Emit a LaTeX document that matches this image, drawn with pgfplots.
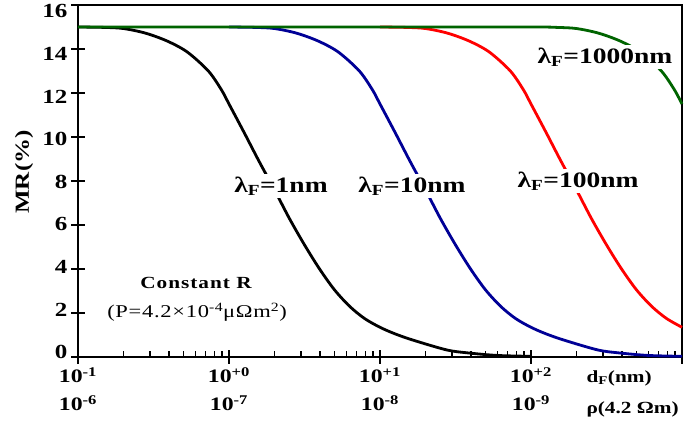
\documentclass[border=0pt]{standalone}
\usepackage{fontspec}
\setmainfont{Liberation Serif}[FakeStretch=1.25]
\usepackage{pgfplots}
\pgfplotsset{compat=1.18}

\definecolor{cblue}{RGB}{0,0,150}
\definecolor{cred}{RGB}{255,0,0}
\definecolor{cgreen}{RGB}{0,100,0}

\begin{document}
\begin{tikzpicture}
\useasboundingbox (-78pt,-70pt) rectangle (607pt,357pt);
\begin{axis}[
    scale only axis,
    width=604pt, height=352pt,
    xmode=log,
    xmin=0.1, xmax=1000,
    ymin=0, ymax=16,
    ytick={0,2,...,16},
    xtick={0.1,1,10,100,1000},
    xticklabels={{10\textsuperscript{-1}\\10\textsuperscript{-6}},
                 {10\textsuperscript{+0}\\10\textsuperscript{-7}},
                 {10\textsuperscript{+1}\\10\textsuperscript{-8}},
                 {10\textsuperscript{+2}\\10\textsuperscript{-9}},
                 {}},
    xticklabel style={align=center, font=\fontsize{19}{28}\selectfont\bfseries},
    yticklabel style={font=\fontsize{20}{24}\selectfont\bfseries,
                      yshift={(5-1.4*\ticknum)*1pt}},
    /pgf/number format/assume math mode=true,
    xtick pos=bottom, ytick pos=left,
    tick align=center,
    major tick length=14pt,
    minor tick length=6pt,
    minor x tick style={yshift=3pt},
    tick style={black, line width=1.6pt},
    axis line style={line width=2pt},
    clip=false,
]
% lambda_F = 1 nm
\addplot[black, line width=2.8pt, smooth] coordinates {
  (0.1,15.0) (0.15,14.98) (0.2,14.93) (0.28,14.72) (0.39,14.36) (0.53,13.86)
  (0.73,13.0) (0.89,12.15) (1.0,11.5) (1.26,10.2) (1.58,8.9) (2.0,7.6)
  (2.51,6.3) (3.16,5.1) (3.98,4.0) (5.0,3.05) (6.3,2.3) (7.9,1.75)
  (10,1.35) (12.6,1.05) (16.5,0.77) (27.7,0.32) (39,0.18) (60,0.07) (100,0.03)
};
% lambda_F = 10 nm
\addplot[cblue, line width=2.8pt, smooth] coordinates {
  (1,15.0) (1.5,14.98) (2,14.93) (2.8,14.72) (3.9,14.36) (5.3,13.86)
  (7.3,13.0) (8.9,12.15) (10,11.5) (12.6,10.2) (15.8,8.9) (20,7.6)
  (25.1,6.3) (31.6,5.1) (39.8,4.0) (50,3.05) (63,2.3) (79,1.75)
  (100,1.35) (126,1.05) (165,0.77) (277,0.32) (390,0.18) (600,0.07) (1000,0.03)
};
% lambda_F = 100 nm
\addplot[cred, line width=2.8pt, smooth] coordinates {
  (10,15.0) (15,14.98) (20,14.93) (28,14.72) (39,14.36) (53,13.86)
  (73,13.0) (89,12.15) (100,11.5) (126,10.2) (158,8.9) (200,7.6)
  (251,6.3) (316,5.1) (398,4.0) (500,3.05) (630,2.3) (790,1.75) (1000,1.35)
};
% lambda_F = 1000 nm
\addplot[cgreen, line width=2.8pt, smooth] coordinates {
  (0.1,15.0) (1,15.0) (10,15.0) (100,15.0) (150,14.98) (200,14.93)
  (280,14.72) (390,14.36) (530,13.86) (730,13.0) (890,12.15) (1000,11.5)
};
\end{axis}

\node[fill=white, inner sep=3pt, font=\fontsize{22}{26}\selectfont\bfseries]
  at (203pt,171pt) {λ\textsubscript{F}=1nm};
\node[fill=white, inner sep=3pt, font=\fontsize{22}{26}\selectfont\bfseries]
  at (334pt,171pt) {λ\textsubscript{F}=10nm};
\node[fill=white, inner sep=3pt, font=\fontsize{22}{26}\selectfont\bfseries]
  at (500pt,176pt) {λ\textsubscript{F}=100nm};
\node[fill=white, inner sep=3pt, font=\fontsize{22}{26}\selectfont\bfseries]
  at (527pt,300pt) {λ\textsubscript{F}=1000nm};

\node[font=\fontsize{17}{20}\selectfont\bfseries\addfontfeatures{LetterSpace=6}]
  at (118pt,74pt) {Constant R};
\node[font=\fontsize{18}{21}\selectfont\addfontfeatures{LetterSpace=4}]
  at (119pt,45pt) {(P=4.2×10\textsuperscript{-4}μΩm\textsuperscript{2})};

\node[rotate=90, font=\fontsize{20}{24}\selectfont\bfseries]
  at (-54pt,185pt) {MR(\%)};

\node[anchor=west, font=\fontsize{17}{22}\selectfont\bfseries]
  at (505pt,-21pt) {d\textsubscript{F}(nm)};
\node[anchor=west, font=\fontsize{17}{22}\selectfont\bfseries]
  at (505pt,-52pt) {ρ(4.2 Ωm)};
\end{tikzpicture}
\end{document}
